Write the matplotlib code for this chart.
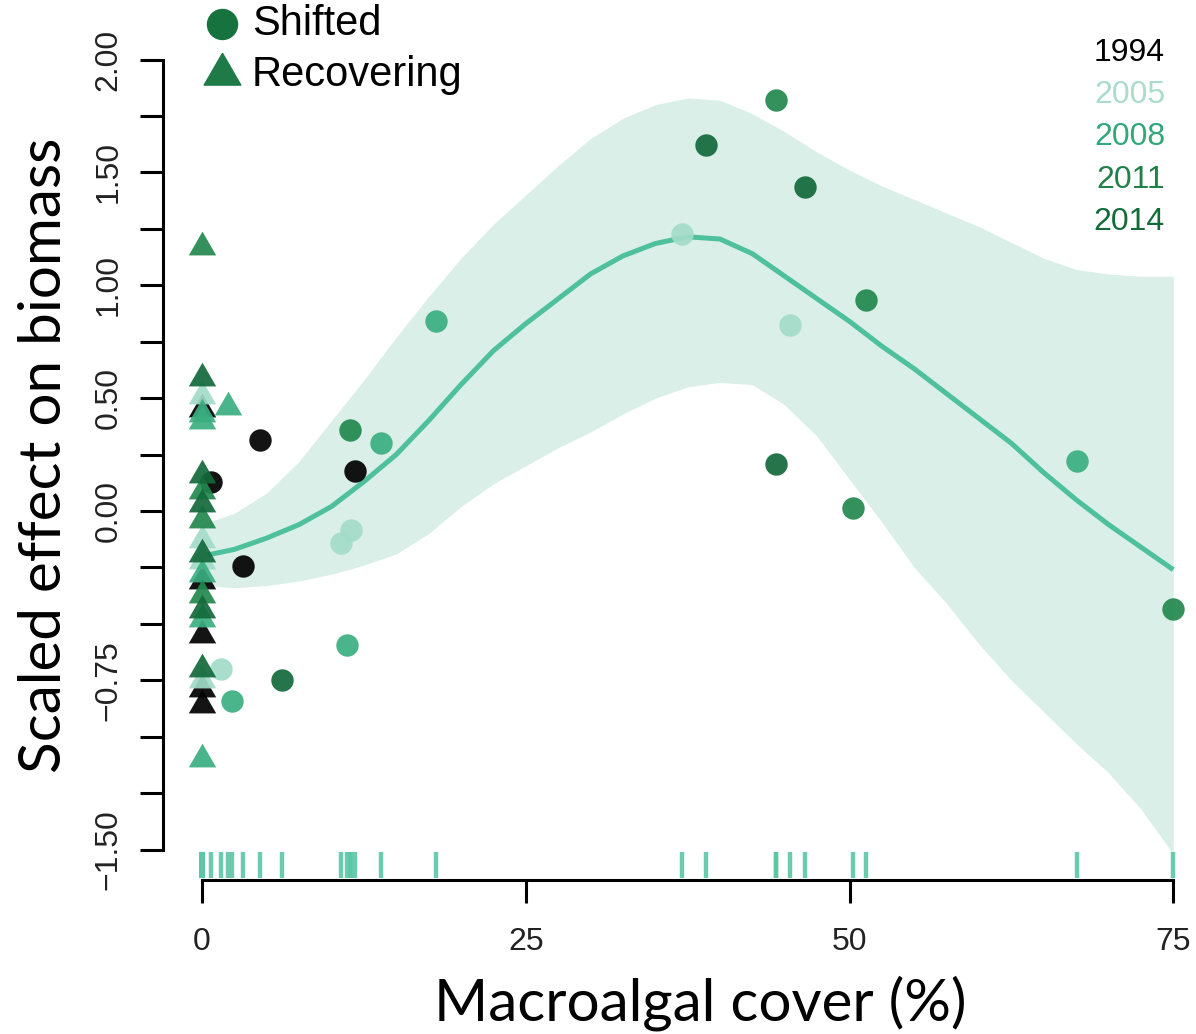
import numpy as np
import matplotlib
matplotlib.use('Agg')
import matplotlib.pyplot as plt
from matplotlib.lines import Line2D

# --- data ---
years = ['1994', '2005', '2008', '2011', '2014']
year_colors = ['#000000', '#a3dcc8', '#3aae80', '#22884d', '#13693a']

# shifted reefs (circles): x = macroalgal cover, y = scaled effect
shifted_x = {
    '1994': [4.5, 11.8, 3.2, 0.7],
    '2005': [37.1, 45.4, 10.7, 11.5, 1.5],
    '2008': [18.1, 13.8, 67.6, 11.2, 2.3],
    '2011': [44.3, 51.3, 50.3, 75.0, 11.4],
    '2014': [38.9, 46.6, 44.3, 6.2],
}
shifted_y = {
    '1994': [0.315, 0.177, -0.244, 0.13],
    '2005': [1.227, 0.824, -0.14, -0.084, -0.70],
    '2008': [0.84, 0.30, 0.22, -0.594, -0.84],
    '2011': [1.82, 0.935, 0.013, -0.434, 0.36],
    '2014': [1.62, 1.436, 0.208, -0.75],
}

# recovering reefs (triangles)
recov_x = {
    '1994': [0, 0, 0, 0, 0],
    '2005': [0, 0, 0, 0],
    '2008': [0, 0, 0, 0, 0, 2.0],
    '2011': [0, 0, 0, 0],
    '2014': [0, 0, 0, 0, 0, 0],
}
recov_y = {
    '1994': [0.45, -0.31, -0.55, -0.79, -0.86],
    '2005': [0.51, -0.13, -0.22, -0.75],
    '2008': [0.43, 0.40, -0.28, -0.48, -1.10, 0.46],
    '2011': [1.17, 0.09, -0.04, -0.37],
    '2014': [0.59, 0.16, 0.03, -0.19, -0.44, -0.70],
}

# fitted smooth and its confidence band (read every 2.5 % cover)
grid_x = [0, 2.5, 5, 7.5, 10, 12.5, 15, 17.5, 20, 22.5, 25, 27.5, 30, 32.5,
          35, 37.5, 40, 42.5, 45, 47.5, 50, 52.5, 55, 57.5, 60, 62.5, 65,
          67.5, 70, 72.5, 75]
fit_y = [-0.20, -0.17, -0.12, -0.06, 0.02, 0.13, 0.25, 0.40, 0.56, 0.71,
         0.83, 0.94, 1.05, 1.13, 1.185, 1.215, 1.205, 1.14, 1.04, 0.94,
         0.84, 0.73, 0.63, 0.52, 0.41, 0.30, 0.17, 0.05, -0.06, -0.16, -0.26]
band_hi = [-0.06, -0.01, 0.08, 0.22, 0.40, 0.58, 0.77, 0.95, 1.12, 1.27,
           1.40, 1.53, 1.65, 1.74, 1.80, 1.83, 1.82, 1.76, 1.68, 1.59, 1.51,
           1.44, 1.38, 1.32, 1.26, 1.19, 1.12, 1.07, 1.05, 1.04, 1.04]
band_lo = [-0.33, -0.34, -0.33, -0.31, -0.28, -0.24, -0.19, -0.10, 0.02,
           0.12, 0.20, 0.28, 0.35, 0.43, 0.50, 0.55, 0.57, 0.56, 0.47, 0.33,
           0.14, -0.05, -0.25, -0.41, -0.59, -0.75, -0.89, -1.03, -1.16,
           -1.32, -1.52]

y_ticks = [-1.5, -1.25, -1.0, -0.75, -0.5, -0.25, 0, 0.25, 0.5, 0.75, 1.0,
           1.25, 1.5, 1.75, 2.0]
y_labels = {-1.5: '\u22121.50', -0.75: '\u22120.75', 0: '0.00', 0.5: '0.50',
            1.0: '1.00', 1.5: '1.50', 2.0: '2.00'}
x_ticks = [0, 25, 50, 75]

# --- figure ---
W, H = 1196, 1034
fig = plt.figure(figsize=(W / 100, H / 100), dpi=100)
L, R, T, B = 163, 1190, 20, 880
ax = fig.add_axes([L / W, 1 - B / H, (R - L) / W, (B - T) / H])

px_per_x = 12.95
px_per_y = 225.7
ax.set_xlim((L - 202) / px_per_x, (R - 202) / px_per_x)
ax.set_ylim((511 - B) / px_per_y, (511 - T) / px_per_y)

mint = '#4fc09c'
ax.fill_between(grid_x, band_lo, band_hi, color='#d9efe8', lw=0, zorder=1)
ax.plot(grid_x, fit_y, color=mint, lw=3.6, zorder=2,
        solid_capstyle='butt', solid_joinstyle='round')

# rug of all x values
all_x = []
for yr in years:
    all_x += shifted_x[yr] + recov_x[yr]
ax.vlines(all_x, -1.51, -1.625, color='#5cc6a5', lw=3.2, alpha=0.9, zorder=2)

tri = [(0, 1), (-0.866, -0.5), (0.866, -0.5), (0, 1)]
for yr, c in zip(years, year_colors):
    ax.scatter(recov_x[yr], recov_y[yr], marker=tri, s=520, color=c,
               lw=0, alpha=0.92, zorder=3)
    ax.scatter(shifted_x[yr], shifted_y[yr], marker='o', s=260, color=c,
               lw=0, alpha=0.92, zorder=3)

# axes styling, R-like detached axes
for s in ['top', 'right']:
    ax.spines[s].set_visible(False)
ax.spines['left'].set_bounds(-1.5, 2.0)
ax.spines['bottom'].set_bounds(0, 75)
for s in ['left', 'bottom']:
    ax.spines[s].set_linewidth(2.2)

ax.set_yticks(y_ticks)
ax.set_yticklabels([y_labels.get(v, '') for v in y_ticks],
                   rotation=90, va='center')
ax.set_xticks(x_ticks)
ax.set_xticklabels([str(v) for v in x_ticks])
ax.tick_params(axis='both', length=16.5, width=2.2, labelsize=23,
               labelcolor='#222222', direction='out')
ax.tick_params(axis='y', pad=12)
ax.tick_params(axis='x', pad=17)
for lab in ax.get_xticklabels() + ax.get_yticklabels():
    lab.set_family('Liberation Sans')

# axis titles
fig.text(700 / W, 1 - 1003 / H, 'Macroalgal cover (%)', family='Lato',
         fontsize=42, ha='center', va='center')
fig.text(45 / W, 1 - 455 / H, 'Scaled effect on biomass', family='Lato',
         fontsize=42, ha='center', va='center', rotation=90)

# shape legend
fig.add_artist(Line2D([222 / W], [1 - 24 / H], marker='o', ms=21.6,
                      color='#17733d', lw=0, transform=fig.transFigure))
fig.add_artist(Line2D([222 / W], [1 - 74 / H], marker=tri, ms=30.5,
                      color='#1e7a47', lw=0, transform=fig.transFigure))
fig.text(252 / W, 1 - 24 / H, 'Shifted', family='Liberation Sans',
         fontsize=30, ha='left', va='center')
fig.text(252 / W, 1 - 75 / H, 'Recovering', family='Liberation Sans',
         fontsize=30, ha='left', va='center')

# year legend
text_cols = ['#000000', '#a9dcc9', '#32a77a', '#1f8048', '#146b3a']
for i, (yr, c) in enumerate(zip(years, text_cols)):
    fig.text(1165 / W, 1 - (53 + 42.2 * i) / H, yr, family='Liberation Sans',
             fontsize=23, color=c, ha='right', va='center')

fig.savefig('out.png', dpi=100)
